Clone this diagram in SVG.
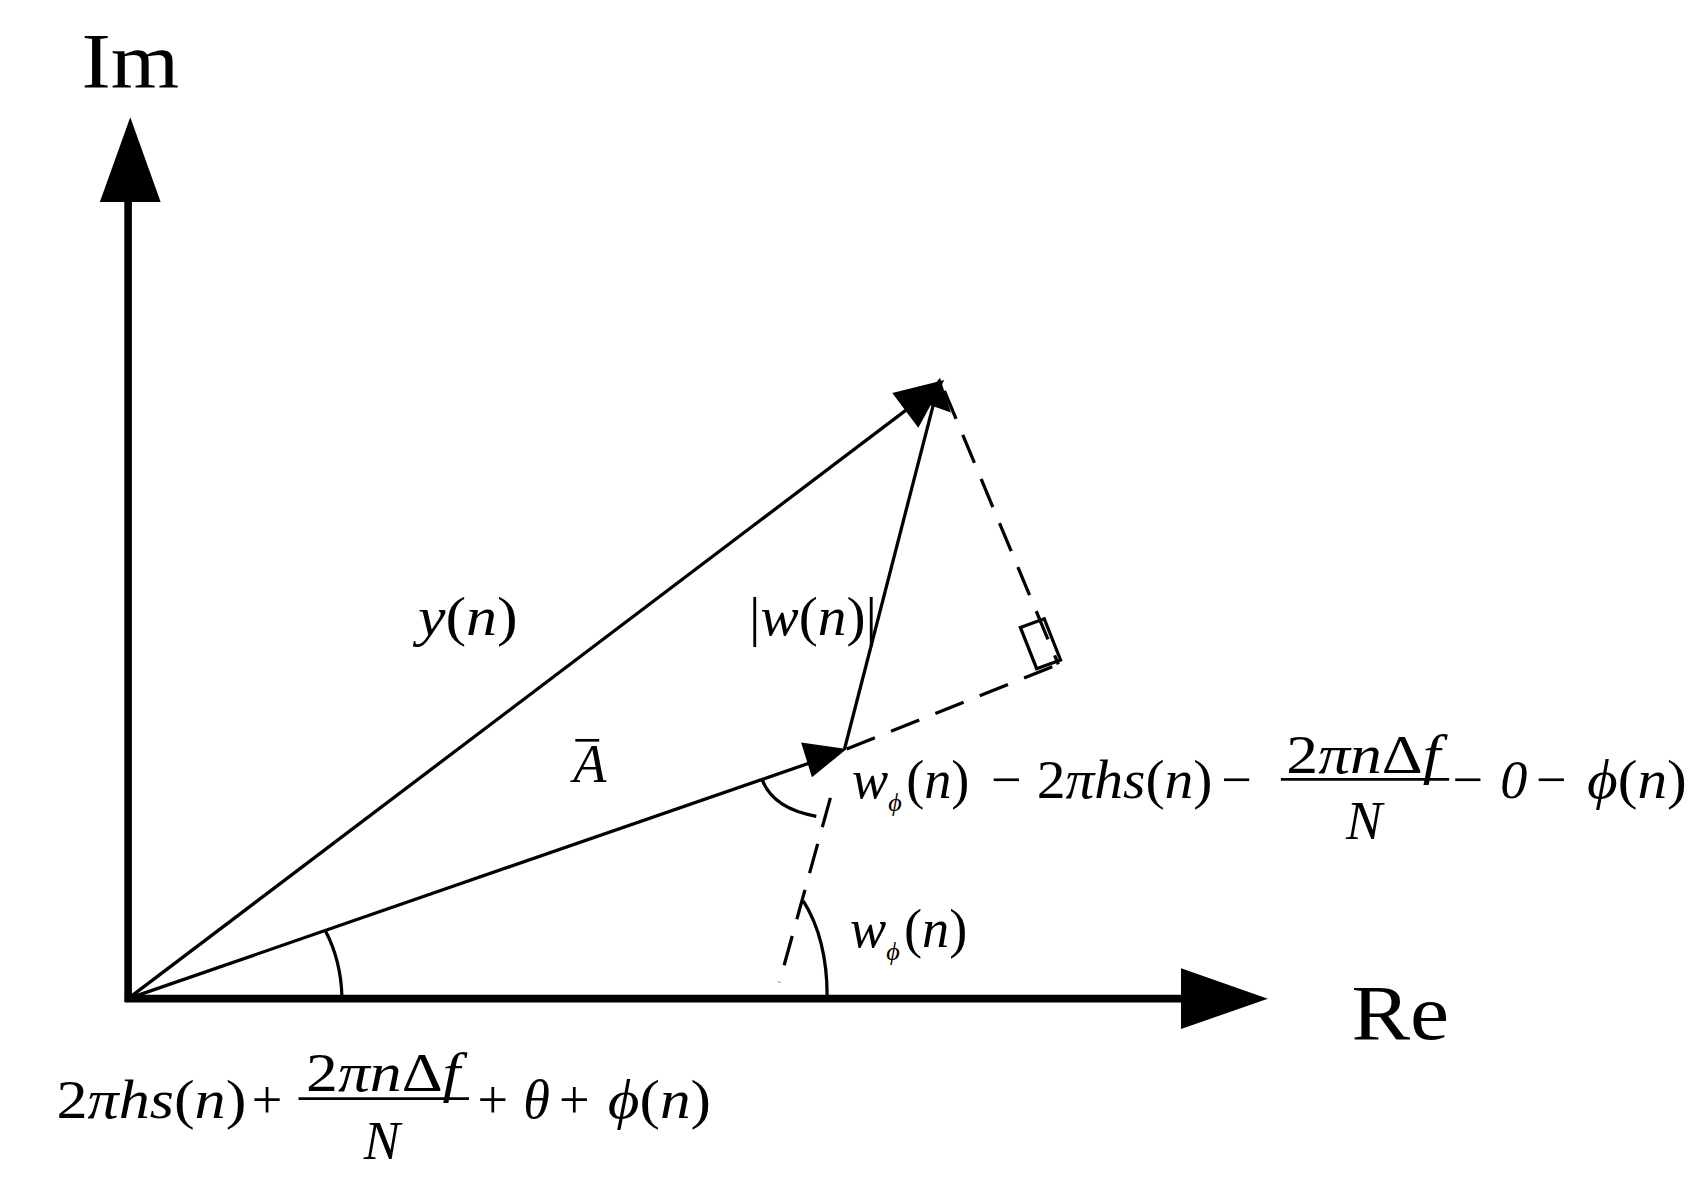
<svg xmlns="http://www.w3.org/2000/svg" width="1702" height="1179" viewBox="0 0 1702 1179">
<style>
.t{font-family:"Liberation Serif","Times New Roman",serif;fill:#000}
.i{font-style:italic}
.n{font-style:normal}
.thin{stroke:#000;stroke-width:3;fill:none}
.dash{stroke:#000;stroke-width:3;fill:none;stroke-dasharray:28 16}
</style>
<rect width="1702" height="1179" fill="#fff"/>
<g transform="scale(1.0855)">
<g id="axes">
<line x1="118" y1="923" x2="118" y2="180" stroke="#000" stroke-width="7"/>
<path d="M92,186 L120,108 L148,186 z" fill="#000"/>
<line x1="115" y1="920" x2="1092" y2="920" stroke="#000" stroke-width="7"/>
<path d="M1088,892 L1168,920 L1088,948 z" fill="#000"/>
<text class="t" x="75" y="80" font-size="72" textLength="90" lengthAdjust="spacingAndGlyphs">Im</text>
<text class="t" x="1245" y="957" font-size="72" textLength="90" lengthAdjust="spacingAndGlyphs">Re</text>
</g>
<g id="connectors">
<line x1="118" y1="920" x2="845" y2="370" class="thin"/>
<path d="M822,362 L870,350 L846,394 z" fill="#000"/>
<line x1="118" y1="920" x2="760" y2="698" class="thin"/>
<path d="M738,684 L780,690 L748,716 z" fill="#000"/>
<line x1="778" y1="690" x2="860" y2="372" class="thin"/>
<path d="M848,370 L866,348 L876,380 z" fill="#000"/>
<line x1="870" y1="360" x2="975" y2="612" class="dash"/>
<line x1="780" y1="690" x2="975" y2="612" class="dash"/>
<line x1="765" y1="735" x2="718" y2="905" class="dash" stroke-dasharray="40 44"/>
<path d="M940,578 L962,570 L977,608 L955,616 z" class="thin"/>
<path d="M315,918 Q314,885 300,858" class="thin"/>
<path d="M762,918 Q762,865 740,830" class="thin"/>
<path d="M702,718 Q712,745 752,752" class="thin"/>
</g>
<g id="labels" class="t i" font-size="50">
<text x="385" y="585" textLength="92" lengthAdjust="spacingAndGlyphs">y<tspan class="n">(</tspan>n<tspan class="n">)</tspan></text>
<text x="690" y="585" textLength="118" lengthAdjust="spacingAndGlyphs"><tspan class="n">|</tspan>w<tspan class="n">(</tspan>n<tspan class="n">)|</tspan></text>
<text x="528" y="720">A</text>
<line x1="530" y1="682" x2="552" y2="682" stroke="#000" stroke-width="2.5"/>
<text x="785" y="735">w<tspan font-size="24" dy="12">ϕ</tspan><tspan dy="-12" class="n" dx="4">(</tspan>n<tspan class="n">)</tspan></text>
<text x="913" y="735" class="n">−</text>
<text x="955" y="735" textLength="162" lengthAdjust="spacingAndGlyphs"><tspan class="n">2</tspan>πhs<tspan class="n">(</tspan>n<tspan class="n">)</tspan></text>
<text x="1125" y="735" class="n">−</text>
<text x="1185" y="712" textLength="142" lengthAdjust="spacingAndGlyphs"><tspan class="n">2</tspan>πn<tspan class="n">Δ</tspan>f</text>
<line x1="1180" y1="718" x2="1335" y2="718" stroke="#000" stroke-width="2.5"/>
<text x="1240" y="773">N</text>
<text x="1338" y="735" class="n">−</text>
<text x="1382" y="735">0</text>
<text x="1415" y="735" class="n">−</text>
<text x="1462" y="735" textLength="92" lengthAdjust="spacingAndGlyphs">ϕ<tspan class="n">(</tspan>n<tspan class="n">)</tspan></text>
<text x="783" y="872">w<tspan font-size="24" dy="12">ϕ</tspan><tspan dy="-12" class="n" dx="4">(</tspan>n<tspan class="n">)</tspan></text>
<text x="52" y="1030" textLength="175" lengthAdjust="spacingAndGlyphs"><tspan class="n">2</tspan>πhs<tspan class="n">(</tspan>n<tspan class="n">)</tspan></text>
<text x="232" y="1030" class="n">+</text>
<text x="282" y="1005" textLength="142" lengthAdjust="spacingAndGlyphs"><tspan class="n">2</tspan>πn<tspan class="n">Δ</tspan>f</text>
<line x1="275" y1="1012" x2="432" y2="1012" stroke="#000" stroke-width="2.5"/>
<text x="335" y="1068">N</text>
<text x="440" y="1030" class="n">+</text>
<text x="482" y="1030">θ</text>
<text x="515" y="1030" class="n">+</text>
<text x="560" y="1030" textLength="95" lengthAdjust="spacingAndGlyphs">ϕ<tspan class="n">(</tspan>n<tspan class="n">)</tspan></text>
</g>
</g>
</svg>
